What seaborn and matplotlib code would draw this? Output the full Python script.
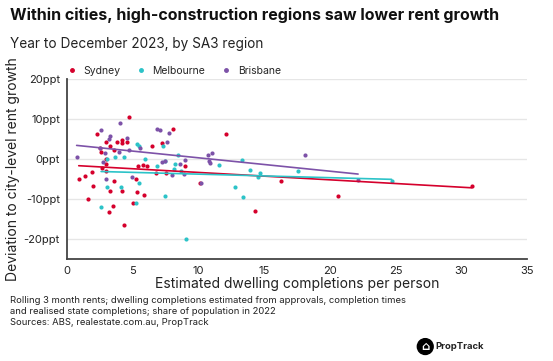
import numpy as np
import pandas as pd
import seaborn as sns
import matplotlib.pyplot as plt

# Estimated dwelling completions per person (x) and deviation in ppt (y)
sydney_x = [0.9, 1.4, 1.9, 1.95, 1.6, 2.26, 2.5, 2.6, 2.97, 3.0, 3.0, 2.66, 3.0, 3.3, 3.6, 3.6,
            3.27, 3.47, 3.22, 3.78, 4.16, 4.2, 4.6, 4.7, 4.2, 4.36, 5.0, 5.27, 5.3, 5.9, 5.4,
            5.75, 6.1, 6.5, 6.8, 7.2, 7.5, 8.1, 8.95, 10.1, 12.1, 14.3, 16.3, 20.6, 30.8]
sydney_y = [-5.1, -4.25, -3.3, -6.7, -10.0, 6.2, 2.7, 1.75, 4.3, -0.1, -1.2, -2.3, -3.0, 3.3, 2.25, -5.5,
            -8.0, -11.75, -13.2, 4.3, 4.75, 4.0, 4.25, 10.6, -8.0, -16.6, -10.9, -5.1, -8.3, -9.0, -1.75,
            -1.5, -1.75, 3.3, -3.4, 4.1, -3.4, 7.4, -1.75, -6.1, 6.2, -13.1, -5.5, -9.2, -6.75]

melbourne_x = [2.6, 3.07, 3.65, 3.07, 4.1, 4.33, 5.3, 5.5, 5.27, 5.47, 5.93, 6.87, 7.32, 7.45, 7.43,
               8.2, 8.14, 8.47, 8.7, 9.03, 11.55, 12.75, 13.35, 13.4, 13.95, 14.5, 14.7, 17.6, 24.7]
melbourne_y = [-11.9, 0.1, 0.4, -6.9, -6.9, 0.6, 3.75, 3.25, -10.9, -6.1, -0.1, -1.75, 3.25, -0.5, -9.2,
               -1.2, -2.6, 1.0, -2.9, -20.1, -1.5, -7.1, -0.2, -9.6, -2.75, -4.4, -3.6, -3.1, -5.6]

brisbane_x = [0.74, 2.53, 2.59, 2.76, 2.9, 2.97, 3.2, 3.3, 3.98, 4.03, 4.6, 4.7, 4.97, 5.55, 6.84,
              7.1, 7.58, 7.76, 7.2, 7.45, 8.0, 8.6, 8.9, 8.97, 10.2, 10.75, 11.05, 10.8, 10.9, 18.1, 22.15]
brisbane_y = [0.4, 2.8, 7.25, -0.7, 1.4, -5.0, 5.0, 5.7, 1.7, 9.1, 5.3, 2.25, -4.4, 2.7, 7.6,
              7.25, 4.3, 6.4, -0.8, -0.5, -4.0, -1.3, -3.75, -0.25, -5.9, 1.0, 1.4, -0.4, -0.9, 1.0, -5.25]

cities = ["Sydney", "Melbourne", "Brisbane"]
colors = {"Sydney": "#d5002c", "Melbourne": "#2cc3c8", "Brisbane": "#7d52a8"}
xticks = [0, 5, 10, 15, 20, 25, 30, 35]
yticks = [-20, -10, 0, 10, 20]

df = pd.concat([
    pd.DataFrame({"x": sydney_x, "y": sydney_y, "city": "Sydney"}),
    pd.DataFrame({"x": melbourne_x, "y": melbourne_y, "city": "Melbourne"}),
    pd.DataFrame({"x": brisbane_x, "y": brisbane_y, "city": "Brisbane"}),
])

sns.set_style("white")
plt.rcParams["font.family"] = ["Inter", "DejaVu Sans"]

fig = plt.figure(figsize=(5.53, 3.61), dpi=100)
ax = fig.add_axes([0.121, 0.2825, 0.832, 0.4985])

for c in cities:
    sub = df[df["city"] == c]
    sns.regplot(data=sub, x="x", y="y", ci=None, ax=ax, color=colors[c],
                scatter_kws={"s": 9, "linewidths": 0, "alpha": 1},
                line_kws={"lw": 1.2})

ax.set_xlim(0, 35)
ax.set_ylim(-25, 20)
ax.set_xticks(xticks)
ax.set_yticks(yticks)
ax.set_yticklabels([f"{v}ppt" for v in yticks])
ax.tick_params(axis="both", labelsize=8, colors="#333333", length=3, width=1,
               labelcolor="#222222", pad=2)
ax.grid(axis="y", color="#e6e6e6", lw=1)
ax.set_axisbelow(True)
for s in ["top", "right"]:
    ax.spines[s].set_visible(False)
for s in ["left", "bottom"]:
    ax.spines[s].set_color("#444444")
    ax.spines[s].set_linewidth(1.3)
ax.spines["left"].set_bounds(-25, 20)

ax.set_xlabel("Estimated dwelling completions per person", fontsize=10, color="#222222", labelpad=1)
ax.set_ylabel("Deviation to city-level rent growth", fontsize=10, color="#222222", labelpad=3)

# legend row above the plot
handles = [plt.Line2D([], [], marker="o", ls="", ms=2.5, color=colors[c]) for c in cities]
ax.legend(handles, cities, loc="lower left", bbox_to_anchor=(-0.01, 0.995), ncol=3, frameon=False,
          fontsize=7.5, handletextpad=0.6, columnspacing=1.5, borderaxespad=0, handlelength=1)

fig.text(0.018, 0.945, "Within cities, high-construction regions saw lower rent growth",
         fontsize=11.5, fontweight="bold", color="#111111")
fig.text(0.018, 0.868, "Year to December 2023, by SA3 region", fontsize=9.8, color="#222222")

foot = ("Rolling 3 month rents; dwelling completions estimated from approvals, completion times\n"
        "and realised state completions; share of population in 2022\n"
        "Sources: ABS, realestate.com.au, PropTrack")
fig.text(0.018, 0.1, foot, fontsize=6.8, color="#222222", linespacing=1.3)

# PropTrack logo
fig.text(0.769, 0.04, "\u2302", fontsize=8.5, color="white", ha="center", va="center",
         family="DejaVu Sans", fontweight="bold",
         bbox=dict(boxstyle="circle,pad=0.12", fc="black", ec="black"))
fig.text(0.787, 0.04, "PropTrack", fontsize=6.8, fontweight="bold", color="#222222", va="center")

plt.savefig("out.png", dpi=100)
plt.close()
